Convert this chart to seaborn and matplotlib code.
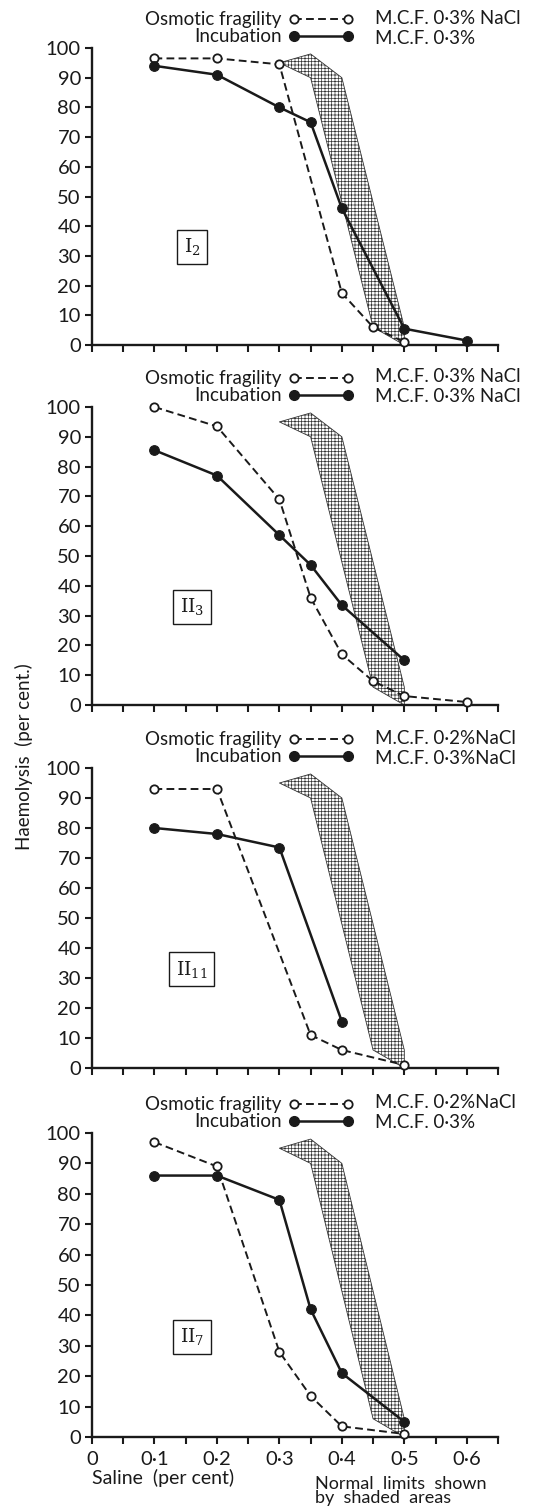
import matplotlib
matplotlib.use("Agg")
import matplotlib.pyplot as plt
import seaborn as sns
from matplotlib.lines import Line2D

sns.set_theme(style="white")
plt.rcParams["font.family"] = ["Lato", "DejaVu Sans"]
plt.rcParams["hatch.linewidth"] = 0.5
plt.rcParams["mathtext.fontset"] = "dejavuserif"

# ---- data (saline per cent vs haemolysis per cent) ----
normal_saline = [0.30, 0.35, 0.40, 0.45, 0.50]
normal_upper = [95, 98, 90, 48, 6]
normal_lower = [95, 90, 48, 6, 0]

panel_ids = [r"$\mathrm{I}_{2}$", r"$\mathrm{II}_{3}$", r"$\mathrm{II}_{11}$", r"$\mathrm{II}_{7}$"]

osm_saline = [
    [0.1, 0.2, 0.3, 0.4, 0.45, 0.5],
    [0.1, 0.2, 0.3, 0.35, 0.4, 0.45, 0.5, 0.6],
    [0.1, 0.2, 0.35, 0.4, 0.5],
    [0.1, 0.2, 0.3, 0.35, 0.4, 0.5],
]
osm_haem = [
    [96.5, 96.5, 94.5, 17.5, 6, 1],
    [100, 93.5, 69, 36, 17, 8, 3, 1],
    [93, 93, 11, 6, 1],
    [97, 89, 28, 13.5, 3.5, 1],
]
inc_saline = [
    [0.1, 0.2, 0.3, 0.35, 0.4, 0.5, 0.6],
    [0.1, 0.2, 0.3, 0.35, 0.4, 0.5],
    [0.1, 0.2, 0.3, 0.4],
    [0.1, 0.2, 0.3, 0.35, 0.4, 0.5],
]
inc_haem = [
    [94, 91, 80, 75, 46, 5.5, 1.5],
    [85.5, 77, 57, 47, 33.5, 15],
    [80, 78, 73.5, 15.5],
    [86, 86, 78, 42, 21, 5],
]
mcf_osm = ["M.C.F. 0·3% NaCl", "M.C.F. 0·3% NaCl", "M.C.F. 0·2%NaCl", "M.C.F. 0·2%NaCl"]
mcf_inc = ["M.C.F. 0·3%", "M.C.F. 0·3% NaCl", "M.C.F. 0·3%NaCl", "M.C.F. 0·3%"]

x_major = [0, 0.1, 0.2, 0.3, 0.4, 0.5, 0.6]
x_major_labels = ["0", "0·1", "0·2", "0·3", "0·4", "0·5", "0·6"]
x_minor = [0.05, 0.15, 0.25, 0.35, 0.45, 0.55, 0.65]
y_ticks = list(range(0, 101, 10))

# axes boxes in figure fractions (left, bottom, width, height)
W, H = 559, 1508
boxes = [
    (92 / W, 1 - 345 / H, 406 / W, 297 / H),
    (92 / W, 1 - 705 / H, 406 / W, 298 / H),
    (92 / W, 1 - 1068 / H, 406 / W, 300 / H),
    (92 / W, 1 - 1437 / H, 406 / W, 304 / H),
]

fig = plt.figure(figsize=(W / 100, H / 100), dpi=100)
fig.patch.set_facecolor("white")

INK = "#1a1a1a"
DASH = (4, 2.2)
LEG_FS = 13.5

for i, box in enumerate(boxes):
    ax = fig.add_axes(box)
    ax.set_facecolor("white")
    hpx = box[3] * H

    ax.fill_between(normal_saline, normal_lower, normal_upper,
                    facecolor="white", edgecolor="#333333", hatch="+++++",
                    linewidth=0.6, zorder=1)

    sns.lineplot(x=osm_saline[i], y=osm_haem[i], ax=ax, color=INK,
                 linewidth=1.4, linestyle=(0, DASH), marker="o",
                 markersize=6, markerfacecolor="white", markeredgecolor=INK,
                 markeredgewidth=1.3, clip_on=False, zorder=3)
    sns.lineplot(x=inc_saline[i], y=inc_haem[i], ax=ax, color=INK,
                 linewidth=1.8, marker="o", markersize=7,
                 markerfacecolor=INK, markeredgecolor=INK,
                 clip_on=False, zorder=4)

    ax.set_xlim(0, 0.65)
    ax.set_ylim(0, 100)
    for s in ["top", "right"]:
        ax.spines[s].set_visible(False)
    for s in ["left", "bottom"]:
        ax.spines[s].set_color(INK)
        ax.spines[s].set_linewidth(1.7)

    ax.set_yticks(y_ticks)
    ax.set_yticklabels([str(v) for v in y_ticks])
    ax.set_xticks(x_major)
    ax.set_xticks(x_minor, minor=True)
    ax.tick_params(axis="both", which="both", direction="out", length=5,
                   width=1.5, color=INK, labelcolor=INK,
                   bottom=True, left=True)
    ax.tick_params(axis="y", labelsize=14.5, pad=3)
    if i == 3:
        ax.set_xticklabels(x_major_labels, fontsize=14.5)
        ax.tick_params(axis="x", pad=5)
    else:
        ax.set_xticklabels([])
    ax.set_xlabel("")
    ax.set_ylabel("")
    ax.grid(False)

    # panel label
    ax.text(0.16, 33, panel_ids[i], fontsize=13.5, ha="center", va="center",
            color=INK,
            bbox=dict(boxstyle="square,pad=0.35", facecolor="white",
                      edgecolor=INK, linewidth=1.0))

    # legend: two rows, 30 px and 10 px above the top of the axis
    handles = [
        Line2D([], [], color=INK, linewidth=1.4, linestyle=(0, DASH),
               marker="o", markersize=6, markerfacecolor="white",
               markeredgecolor=INK, markeredgewidth=1.3),
        Line2D([], [], color=INK, linewidth=1.8, marker="o",
               markersize=7, markerfacecolor=INK),
    ]
    y_mid = 1 + 20 / hpx
    ax.legend(handles, ["Osmotic fragility", "Incubation"], loc="center right",
              bbox_to_anchor=(0.645, y_mid), frameon=False, markerfirst=False,
              numpoints=2, handlelength=3.5, handletextpad=0.35,
              labelspacing=-0.05, borderpad=0, borderaxespad=0, fontsize=LEG_FS,
              labelcolor=INK, handleheight=0.5)
    ax.text(0.697, 1 + 30 / hpx, mcf_osm[i], transform=ax.transAxes,
            fontsize=LEG_FS, ha="left", va="center", color=INK)
    ax.text(0.697, 1 + 10 / hpx, mcf_inc[i], transform=ax.transAxes,
            fontsize=LEG_FS, ha="left", va="center", color=INK)

fig.text(24 / W, 1 - 757 / H, "Haemolysis  (per cent.)", rotation=90,
         ha="center", va="center", fontsize=13.5, color=INK)
fig.text(92 / W, 1 - 1478 / H, "Saline  (per cent)", ha="left", va="center",
         fontsize=14, color=INK)
fig.text(315 / W, 1 - 1491 / H, "Normal  limits  shown\nby  shaded  areas",
         ha="left", va="center", fontsize=13, color=INK, linespacing=0.85)

fig.savefig("out.png", dpi=100, facecolor="white")
